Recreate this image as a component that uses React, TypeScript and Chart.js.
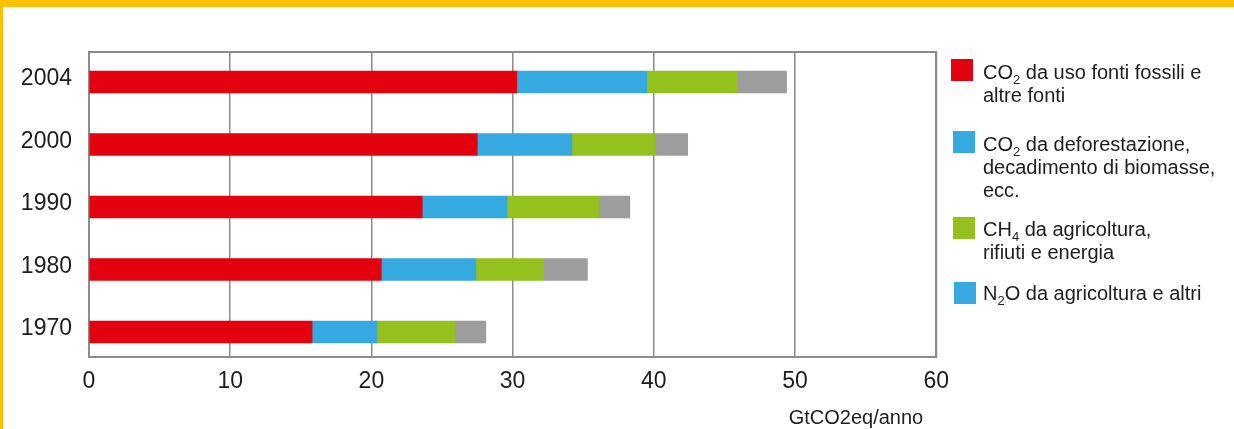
import React, { useEffect, useRef } from "react";
import { Chart, registerables } from "chart.js";

Chart.register(...registerables);

const YEARS = ["2004", "2000", "1990", "1980", "1970"];
const CO2_FOSSIL = [30.3, 27.5, 23.6, 20.7, 15.8];
const CO2_DEFOREST = [9.2, 6.7, 6.0, 6.7, 4.6];
const CH4 = [6.4, 5.9, 6.5, 4.8, 5.5];
const N2O = [3.5, 2.3, 2.2, 3.1, 2.2];
const X_MIN = 0;
const X_MAX = 60;
const X_STEP = 10;
const AXIS_TITLE = "GtCO2eq/anno";

const RED = "#E3000F";
const BLUE = "#36A9E1";
const GREEN = "#95C11F";
const GRAY = "#9D9D9D";
const TEXT = "#1d1d1b";
const LINE = "#8c8c8c";
const FONT = "'Liberation Sans', Arial, Helvetica, sans-serif";

const toPoints = (arr: number[]) => arr.map((v, i) => ({ x: v, y: i }));

const framePlugin = {
  id: "frame",
  beforeDatasetsDraw(chart: any) {
    const { ctx, chartArea } = chart;
    ctx.save();
    ctx.strokeStyle = LINE;
    ctx.lineWidth = 2;
    ctx.strokeRect(chartArea.left, chartArea.top, chartArea.right - chartArea.left, chartArea.bottom - chartArea.top);
    ctx.restore();
  },
  afterDraw(chart: any) {
    const { ctx, chartArea } = chart;
    ctx.save();
    ctx.font = `20px ${FONT}`;
    ctx.fillStyle = TEXT;
    ctx.textAlign = "right";
    ctx.textBaseline = "alphabetic";
    ctx.fillText(AXIS_TITLE, chartArea.right - 13, 424);
    ctx.restore();
  },
};

function ChartCanvas() {
  const ref = useRef<HTMLCanvasElement | null>(null);
  useEffect(() => {
    if (!ref.current) return;
    const chart = new Chart(ref.current, {
      type: "bar",
      data: {
        datasets: [
          { label: "CO2 fossili", data: toPoints(CO2_FOSSIL), backgroundColor: RED },
          { label: "CO2 deforestazione", data: toPoints(CO2_DEFOREST), backgroundColor: BLUE },
          { label: "CH4", data: toPoints(CH4), backgroundColor: GREEN },
          { label: "N2O", data: toPoints(N2O), backgroundColor: GRAY },
        ] as any,
      },
      options: {
        indexAxis: "y",
        animation: false,
        responsive: false,
        devicePixelRatio: 1,
        datasets: { bar: { barThickness: 22, borderWidth: 0 } },
        layout: { padding: { top: 52, right: 22, left: 0, bottom: 0 } },
        plugins: { legend: { display: false }, tooltip: { enabled: false } },
        scales: {
          x: {
            type: "linear",
            stacked: true,
            min: X_MIN,
            max: X_MAX,
            ticks: {
              stepSize: X_STEP,
              padding: 11,
              color: TEXT,
              font: { size: 23, family: FONT },
            },
            grid: { color: LINE, lineWidth: 1.5, drawTicks: false },
            border: { display: false },
            afterFit: (s: any) => {
              s.height = 72;
            },
          },
          y: {
            type: "linear",
            stacked: true,
            reverse: true,
            offset: false,
            min: -0.48,
            max: 4.4,
            afterBuildTicks: (s: any) => {
              s.ticks = YEARS.map((_, i) => ({ value: i }));
            },
            ticks: {
              autoSkip: false,
              padding: 17,
              labelOffset: -3,
              color: TEXT,
              font: { size: 23, family: FONT },
              callback: (v: any) => YEARS[v] ?? "",
            },
            grid: { display: false, drawTicks: false, offset: false },
            border: { display: false },
            afterFit: (s: any) => {
              s.width = 89;
            },
          },
        },
      } as any,
      plugins: [framePlugin],
    });
    return () => chart.destroy();
  }, []);
  return (
    <canvas
      ref={ref}
      width={960}
      height={429}
      style={{ position: "absolute", left: 0, top: 0, width: 960, height: 429 }}
    />
  );
}

const subStyle: React.CSSProperties = {
  fontSize: 13,
  verticalAlign: -5,
  lineHeight: 0,
};

function LegendItem(props: { color: string; boxX: number; boxY: number; textTop: number; children: React.ReactNode }) {
  return (
    <>
      <div
        style={{
          position: "absolute",
          left: props.boxX,
          top: props.boxY,
          width: 22,
          height: 22,
          background: props.color,
        }}
      />
      <div
        style={{
          position: "absolute",
          left: 983,
          top: props.textTop,
          fontFamily: FONT,
          fontSize: 20,
          lineHeight: "23px",
          color: TEXT,
          whiteSpace: "nowrap",
        }}
      >
        {props.children}
      </div>
    </>
  );
}

export default function App() {
  return (
    <div
      style={{
        position: "absolute",
        left: 0,
        top: 0,
        width: 1234,
        height: 429,
        background: "#ffffff",
        overflow: "hidden",
      }}
    >
      <ChartCanvas />
      <div style={{ position: "absolute", left: 0, top: 0, width: 1234, height: 7, background: "#FDC300" }} />
      <div style={{ position: "absolute", left: 0, top: 0, width: 3, height: 429, background: "#FFC000" }} />
      <LegendItem color={RED} boxX={951} boxY={59} textTop={61}>
        CO<span style={subStyle}>2</span> da uso fonti fossili e
        <br />
        altre fonti
      </LegendItem>
      <LegendItem color={BLUE} boxX={953} boxY={131} textTop={133}>
        CO<span style={subStyle}>2</span> da deforestazione,
        <br />
        decadimento di biomasse,
        <br />
        ecc.
      </LegendItem>
      <LegendItem color={GREEN} boxX={953} boxY={217} textTop={218}>
        CH<span style={subStyle}>4</span> da agricoltura,
        <br />
        rifiuti e energia
      </LegendItem>
      <LegendItem color={BLUE} boxX={954} boxY={282} textTop={282}>
        N<span style={subStyle}>2</span>O da agricoltura e altri
      </LegendItem>
    </div>
  );
}
